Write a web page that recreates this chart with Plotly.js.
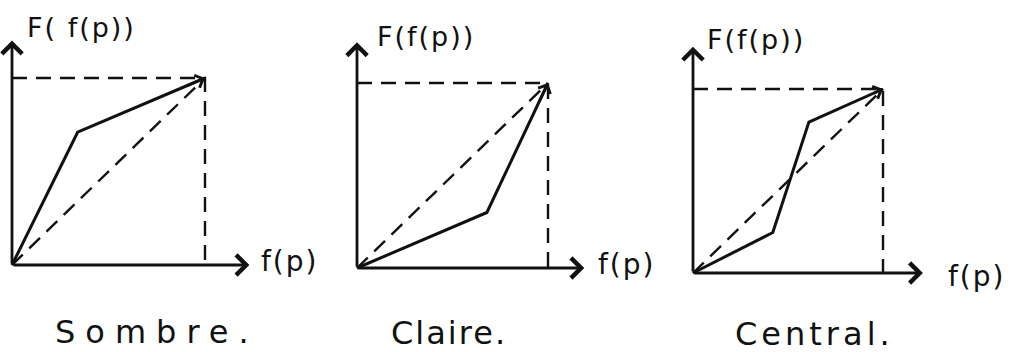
<!DOCTYPE html>
<html>
<head>
<meta charset="utf-8">
<script src="https://cdn.plot.ly/plotly-3.0.1.min.js"></script>
<style>
  html, body { margin: 0; padding: 0; background: #fff; }
  #chart { width: 1030px; height: 352px; }
</style>
</head>
<body>
<div id="chart"></div>
<script>
// Transfer curves F(f(p)) for three contrast adjustments, grey level normalised to [0, 1]
const sombreX  = [0, 0.34, 1];
const sombreY  = [0, 0.71, 1];
const claireX  = [0, 0.68, 1];
const claireY  = [0, 0.30, 1];
const centralX = [0, 0.42, 0.61, 1];
const centralY = [0, 0.22, 0.82, 1];

// identity reference and the max-level guide (horizontal then vertical)
const identityX = [0, 1];
const identityY = [0, 1];
const guideX = [0, 1, 1];
const guideY = [1, 1, 0];

const panelNames = ['Sombre.', 'Claire.', 'Central.'];
const yTitles = ['F( f(p))', 'F(f(p))', 'F(f(p))'];
const xTitle = 'f(p)';

// layout of each small diagram on the page (pixels); spacing = letter-spacing of the caption
const W = 1030, H = 352;
const frames = [
  { ox: 12,  oy: 265, wx: 193, wy: 187, left: 0,   right: 340, xTip: 1.23, yTip: 1.20,
    title: [0.11, 1.27], xlab: [1.30, 0.02], name: [0.75, -0.36], spacing: 10 },
  { ox: 357, oy: 268, wx: 191, wy: 185, left: 343, right: 686, xTip: 1.19, yTip: 1.22,
    title: [0.13, 1.25], xlab: [1.27, 0.02], name: [0.48, -0.35], spacing: 2 },
  { ox: 693, oy: 273, wx: 190, wy: 184, left: 688, right: 1030, xTip: 1.21, yTip: 1.23,
    title: [0.10, 1.27], xlab: [1.35, -0.02], name: [0.64, -0.33], spacing: 4 }
];
const curves = [[sombreX, sombreY], [claireX, claireY], [centralX, centralY]];

const ink = '#111';
const FONT = 'DejaVu Sans, sans-serif';
const DASH = '15px,9px';
const traces = [];
const annotations = [];
const css = [];
const layout = {
  width: W, height: H,
  margin: { l: 0, r: 0, t: 0, b: 0 },
  paper_bgcolor: '#fff', plot_bgcolor: 'rgba(0,0,0,0)',
  showlegend: false,
  annotations: annotations
};

frames.forEach((f, i) => {
  const n = i + 1;
  const sfx = n === 1 ? '' : String(n);
  const xa = 'x' + sfx, ya = 'y' + sfx;
  layout['xaxis' + sfx] = {
    domain: [f.left / W, f.right / W],
    range: [(f.left - f.ox) / f.wx, (f.right - f.ox) / f.wx],
    visible: false, fixedrange: true
  };
  layout['yaxis' + sfx] = {
    domain: [0, 1],
    range: [(f.oy - H) / f.wy, f.oy / f.wy],
    visible: false, fixedrange: true
  };

  // dashed identity line and guides
  traces.push({ x: identityX, y: identityY, xaxis: xa, yaxis: ya, mode: 'lines',
    line: { color: ink, width: 2.4, dash: DASH }, hoverinfo: 'skip' });
  traces.push({ x: guideX, y: guideY, xaxis: xa, yaxis: ya, mode: 'lines',
    line: { color: ink, width: 2.4, dash: DASH }, hoverinfo: 'skip' });
  // the piecewise-linear transfer curve
  const [cx, cy] = curves[i];
  traces.push({ x: cx, y: cy, xaxis: xa, yaxis: ya, mode: 'lines',
    line: { color: ink, width: 3 }, hoverinfo: 'skip' });

  // axes drawn as arrows from the origin
  const arrow = { xref: xa, yref: ya, axref: xa, ayref: ya, text: '', showarrow: true,
    arrowhead: 4, arrowsize: 1.4, arrowwidth: 2.8, arrowcolor: ink, standoff: 0 };
  annotations.push(Object.assign({}, arrow, { x: f.xTip, y: 0, ax: 0, ay: 0 }));
  annotations.push(Object.assign({}, arrow, { x: 0, y: f.yTip, ax: 0, ay: 0 }));
  // small arrowhead where the curve reaches the max level
  const k = cx.length - 1;
  annotations.push(Object.assign({}, arrow, {
    x: cx[k], y: cy[k],
    ax: cx[k] - 0.15 * (cx[k] - cx[k - 1]), ay: cy[k] - 0.15 * (cy[k] - cy[k - 1]),
    arrowsize: 1, arrowwidth: 2.6 }));

  // text: axis titles and caption
  const base = annotations.length;
  annotations.push({ xref: xa, yref: ya, x: f.title[0], y: f.title[1], text: yTitles[i],
    showarrow: false, xanchor: 'left', yanchor: 'middle',
    font: { family: FONT, size: 27, color: ink } });
  annotations.push({ xref: xa, yref: ya, x: f.xlab[0], y: f.xlab[1], text: xTitle,
    showarrow: false, xanchor: 'left', yanchor: 'middle',
    font: { family: FONT, size: 28, color: ink } });
  annotations.push({ xref: xa, yref: ya, x: f.name[0], y: f.name[1], text: panelNames[i],
    showarrow: false, xanchor: 'center', yanchor: 'middle',
    font: { family: FONT, size: 32, color: ink } });

  css.push('g.annotation[data-index="' + base + '"] text{letter-spacing:2px}');
  css.push('g.annotation[data-index="' + (base + 1) + '"] text{letter-spacing:2px}');
  css.push('g.annotation[data-index="' + (base + 2) + '"] text{letter-spacing:' + f.spacing + 'px}');
});

const styleEl = document.createElement('style');
styleEl.textContent = css.join('\n');
document.head.appendChild(styleEl);

Plotly.newPlot('chart', traces, layout, { staticPlot: true, displayModeBar: false });
</script>
</body>
</html>
